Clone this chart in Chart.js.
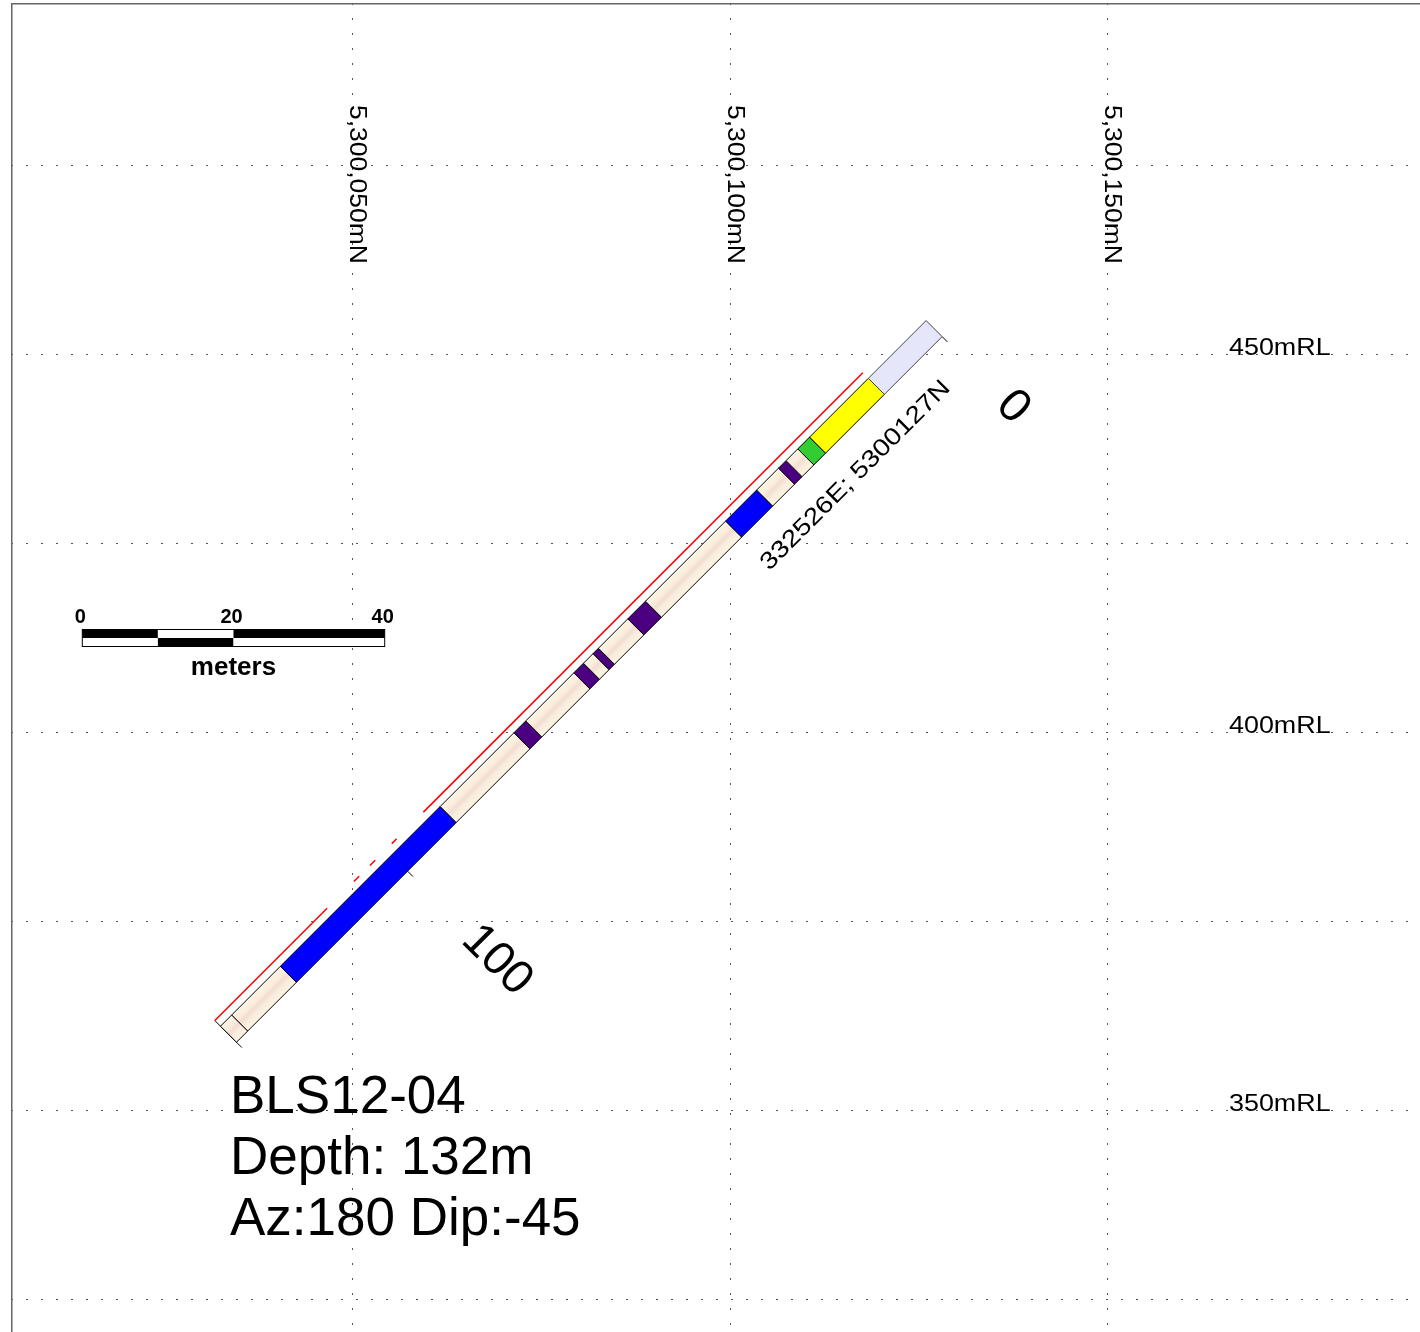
<!DOCTYPE html>
<html><head><meta charset="utf-8">
<script src="https://cdn.jsdelivr.net/npm/chart.js@4"></script>
<style>html,body{margin:0;padding:0;background:#fff;overflow:hidden}canvas{display:block}</style>
</head><body>
<canvas id="c" width="1420" height="1332"></canvas>
<script>
// ---------------- data ----------------
const holeId = 'BLS12-04';
const collarEasting = 332526;
const collarNorthing = 5300127;
const collarRL = 453.4;
const holeDepth = 132;
const holeAzimuth = 180;
const holeDip = -45;

// down-hole intervals (m)
const intervalFrom = [0, 10.8, 21.8, 24.0, 26.2, 27.6, 31.7, 37.5, 52.5, 55.8, 61.3, 62.3, 64.1, 65.9, 74.9, 77.1, 90.9, 120.8, 129.9];
const intervalTo   = [10.8, 21.8, 24.0, 26.2, 27.6, 31.7, 37.5, 52.5, 55.8, 61.3, 62.3, 64.1, 65.9, 74.9, 77.1, 90.9, 120.8, 129.9, 132];
const intervalCode = ['OVB','YEL','GRN','SED','IND','SED','BLU','SED','IND','SED','IND','SED','IND','SED','IND','SED','BLU','SED','SED'];

// red down-hole trace (m from / to, value as offset in m)
const traceFrom  = [10.8, 98.0, 102.0, 105.0, 111.0];
const traceTo    = [93.0, 98.9, 103.0, 106.0, 132.0];
const traceValue = [2.55, 2.55, 2.55, 2.55, 2.55];

const depthTicks = [0, 100];
const depthTickLabels = ['0', '100'];
const northingTicks = [5300050, 5300100, 5300150];
const northingLabels = ['5,300,050mN', '5,300,100mN', '5,300,150mN'];
const rlTicks = [325, 350, 375, 400, 425, 450, 475];
const rlLabelValues = [350, 400, 450];
const rlLabels = ['350mRL', '400mRL', '450mRL'];
const scaleBarValues = [0, 20, 40];
const scaleBarLabels = ['0', '20', '40'];
const titleLines = [holeId, 'Depth: ' + holeDepth + 'm', 'Az:' + holeAzimuth + ' Dip:' + holeDip];
const collarLabel = collarEasting + 'E; ' + collarNorthing + 'N';

// ---------------- styles ----------------
const FONT = "'Liberation Sans', Arial, Helvetica, sans-serif";
const codeColour = {OVB: '#E6E6FA', YEL: '#FFFF00', GRN: '#33CC33', IND: '#4B0082', BLU: '#0000FF'};
const HALF_WIDTH = 1.5;   // m, half width of hole bar
const TICK_OUT = 2.5;     // m
const view = {xMin: 5300004.894, xMax: 5300191.27, yMin: 320.67, yMax: 496.47};

// ---------------- geometry ----------------
const azR = holeAzimuth * Math.PI / 180, dipR = holeDip * Math.PI / 180;
const stepN = Math.cos(dipR) * Math.cos(azR), stepZ = Math.sin(dipR);
const sLen = Math.hypot(stepN, stepZ);
const perpN = stepZ / sLen, perpZ = -stepN / sLen;
function holePt(d, off) {
  return {x: collarNorthing + d * stepN + off * perpN, y: collarRL + d * stepZ + off * perpZ};
}

function creamFill(c) {
  const chart = c.chart; const sx = chart.scales.x, sy = chart.scales.y;
  if (!chart.chartArea || !sx || !sy) return '#FBF0DF';
  const a = holePt(0, HALF_WIDTH), b = holePt(0, -HALF_WIDTH);
  const g = chart.ctx.createLinearGradient(sx.getPixelForValue(a.x), sy.getPixelForValue(a.y), sx.getPixelForValue(b.x), sy.getPixelForValue(b.y));
  g.addColorStop(0, '#FCF3E3'); g.addColorStop(0.3, '#FAEEDD'); g.addColorStop(0.5, '#F3DDD3');
  g.addColorStop(0.7, '#FAEEDD'); g.addColorStop(1, '#FCF3E3');
  return g;
}

const datasets = [];
intervalFrom.forEach((f, i) => {
  const t = intervalTo[i], code = intervalCode[i];
  datasets.push({
    data: [holePt(f, HALF_WIDTH), holePt(t, HALF_WIDTH), holePt(t, -HALF_WIDTH), holePt(f, -HALF_WIDTH), holePt(f, HALF_WIDTH)],
    fill: 'shape',
    backgroundColor: code === 'SED' ? creamFill : codeColour[code],
    borderColor: code === 'OVB' ? '#444' : '#000',
    borderWidth: 1, pointRadius: 0, tension: 0, borderJoinStyle: 'miter'
  });
});
depthTicks.forEach(d => {
  datasets.push({data: [holePt(d, -HALF_WIDTH), holePt(d, -TICK_OUT)], borderColor: '#000', borderWidth: 1, pointRadius: 0, fill: false});
});
datasets.push({data: [holePt(holeDepth, traceValue[traceValue.length - 1]), holePt(holeDepth, -TICK_OUT)], borderColor: '#000', borderWidth: 1, pointRadius: 0, fill: false});
traceFrom.forEach((f, i) => {
  datasets.push({data: [holePt(f, traceValue[i]), holePt(traceTo[i], traceValue[i])], borderColor: '#FF0000', borderWidth: 1.5, pointRadius: 0, fill: false});
});

function stretchedText(ctx, text, x, y, angle, sxf) {
  ctx.save(); ctx.translate(x, y); ctx.rotate(angle); ctx.scale(sxf, 1); ctx.fillText(text, 0, 0); ctx.restore();
}

const annot = {
  id: 'annot',
  afterDatasetsDraw(chart) {
    const {ctx, chartArea: a, scales: {x: sx, y: sy}} = chart;
    const pix = p => [sx.getPixelForValue(p.x), sy.getPixelForValue(p.y)];
    ctx.save();
    // frame
    ctx.strokeStyle = '#666'; ctx.lineWidth = 1.5;
    ctx.beginPath(); ctx.moveTo(a.left + 0.75, a.bottom); ctx.lineTo(a.left + 0.75, a.top + 0.75); ctx.lineTo(a.right, a.top + 0.75); ctx.stroke();
    ctx.fillStyle = '#000';
    // northing labels
    ctx.font = '23px ' + FONT; ctx.textAlign = 'left'; ctx.textBaseline = 'alphabetic';
    northingTicks.forEach((v, i) => stretchedText(ctx, northingLabels[i], sx.getPixelForValue(v) - 2.5, a.top + 102, Math.PI / 2, 1.15));
    // RL labels
    ctx.font = '24px ' + FONT;
    rlLabelValues.forEach((v, i) => stretchedText(ctx, rlLabels[i], a.left + 1218, sy.getPixelForValue(v) + 0.5, 0, 1.12));
    // collar label along hole
    const p0 = pix(holePt(0, 0)), p10 = pix(holePt(10, 0));
    const alongUp = Math.atan2(p0[1] - p10[1], p0[0] - p10[0]);
    ctx.font = '24px ' + FONT; ctx.textAlign = 'center'; ctx.textBaseline = 'middle';
    const cl = pix(holePt(21.1, -6.4));
    stretchedText(ctx, collarLabel, cl[0], cl[1], alongUp, 1.17);
    // depth labels
    const q0 = pix(holePt(0, -1));
    const perpAng = Math.atan2(q0[1] - p0[1], q0[0] - p0[0]);
    ctx.font = '47px ' + FONT; ctx.textAlign = 'left'; ctx.textBaseline = 'middle';
    depthTicks.forEach((d, i) => {
      const p = pix(holePt(d, -13.0));
      stretchedText(ctx, depthTickLabels[i], p[0], p[1], perpAng, 1);
    });
    // scale bar
    const mpx = (sx.getPixelForValue(view.xMin + 10) - sx.getPixelForValue(view.xMin)) / 10;
    const bx = 82.3, by = 629.5, rowH = 8.5;
    const segs = [[0, 10], [10, 20], [20, 40]];
    segs.forEach((s, i) => {
      const x0 = bx + s[0] * mpx, w = (s[1] - s[0]) * mpx;
      ctx.fillStyle = i % 2 === 0 ? '#000' : '#fff'; ctx.fillRect(x0, by, w, rowH);
      ctx.fillStyle = i % 2 === 0 ? '#fff' : '#000'; ctx.fillRect(x0, by + rowH, w, rowH);
    });
    ctx.strokeStyle = '#000'; ctx.lineWidth = 1;
    ctx.strokeRect(bx, by, 40 * mpx, rowH * 2);
    ctx.fillStyle = '#000';
    ctx.font = 'bold 20px ' + FONT; ctx.textAlign = 'center'; ctx.textBaseline = 'alphabetic';
    scaleBarValues.forEach((v, i) => ctx.fillText(scaleBarLabels[i], bx + v * mpx - 2, 623));
    ctx.font = 'bold 26px ' + FONT;
    ctx.fillText('meters', bx + 20 * mpx, 675);
    // title block
    ctx.font = '53px ' + FONT; ctx.textAlign = 'left';
    titleLines.forEach((t, i) => ctx.fillText(t, 230, 1113 + i * 61));
    ctx.restore();
  }
};

new Chart(document.getElementById('c'), {
  type: 'line',
  data: {datasets},
  options: {
    responsive: false, animation: false, devicePixelRatio: 1,
    layout: {padding: {left: 11, top: 3, right: 0, bottom: 0}},
    plugins: {legend: {display: false}, tooltip: {enabled: false}},
    events: [],
    scales: {
      x: {
        type: 'linear', position: 'bottom', min: view.xMin, max: view.xMax,
        afterBuildTicks: s => { s.ticks = northingTicks.map(v => ({value: v})); },
        ticks: {display: false},
        grid: {color: '#555', lineWidth: 1, drawTicks: false},
        border: {display: false, dash: [2, 13]}
      },
      y: {
        type: 'linear', position: 'left', min: view.yMin, max: view.yMax,
        afterBuildTicks: s => { s.ticks = rlTicks.map(v => ({value: v})); },
        ticks: {display: false},
        grid: {color: '#555', lineWidth: 1, drawTicks: false},
        border: {display: false, dash: [2, 13]}
      }
    }
  },
  plugins: [annot]
});
</script>
</body></html>
